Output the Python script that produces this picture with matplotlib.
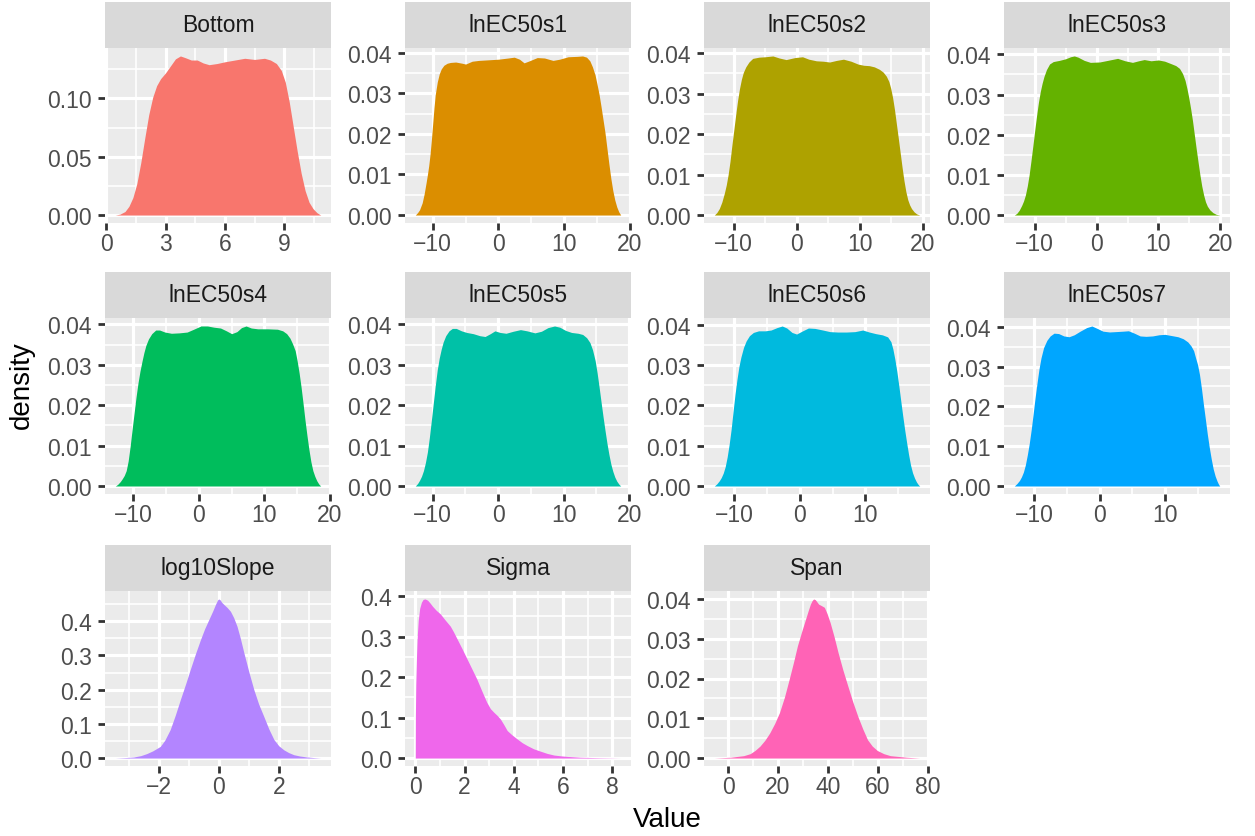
import matplotlib
matplotlib.use("Agg")
import matplotlib.pyplot as plt
import numpy as np

plt.rcParams['font.family'] = ['Liberation Sans', 'DejaVu Sans']

panel_names = ["Bottom", "lnEC50s1", "lnEC50s2", "lnEC50s3", "lnEC50s4", "lnEC50s5",
               "lnEC50s6", "lnEC50s7", "log10Slope", "Sigma", "Span"]

fill_colors = ["#F8766D", "#DB8E00", "#AEA200", "#64B200", "#00BD5C", "#00C1A7",
               "#00BADE", "#00A6FF", "#B385FF", "#EF67EB", "#FF63B6"]

bottom_pts = [(0.46, 0), (0.7, 0.0008), (0.95, 0.003), (1.15, 0.0075), (1.35, 0.015), (1.55, 0.027),
              (1.75, 0.045), (1.95, 0.066), (2.15, 0.086), (2.35, 0.101), (2.55, 0.111), (2.75, 0.117),
              (3.0, 0.122), (3.25, 0.128), (3.5, 0.134), (3.75, 0.1365), (4.0, 0.135), (4.3, 0.133),
              (4.6, 0.133), (4.9, 0.1305), (5.2, 0.129), (5.6, 0.130), (6.0, 0.1315), (6.5, 0.133),
              (7.0, 0.1345), (7.5, 0.1335), (8.0, 0.1345), (8.3, 0.133), (8.6, 0.130), (8.85, 0.124),
              (9.05, 0.114), (9.25, 0.097), (9.45, 0.076), (9.65, 0.055), (9.85, 0.036), (10.05, 0.021),
              (10.25, 0.011), (10.45, 0.0055), (10.65, 0.002), (10.84, 0)]

s1_pts = [(-12.65, 0), (-12.3, 0.0006), (-12.0, 0.0013), (-11.6, 0.003), (-11.3, 0.0052), (-11.0, 0.008),
          (-10.8, 0.010), (-10.6, 0.0122), (-10.4, 0.015), (-10.2, 0.0185), (-10.0, 0.0225), (-9.8, 0.0265),
          (-9.6, 0.0298), (-9.3, 0.0328), (-9.0, 0.0348), (-8.7, 0.036), (-8.3, 0.0369), (-7.8, 0.0374),
          (-7.3, 0.0376), (-6.5, 0.0377), (-5.5, 0.0374), (-5.0, 0.0372), (-4.0, 0.0379), (-3.0, 0.0381),
          (-2.0, 0.0382), (0.0, 0.0384), (1.5, 0.0387), (2.4, 0.0389), (3.2, 0.0384), (3.9, 0.0375),
          (4.7, 0.038), (5.9, 0.0388), (7.0, 0.0387), (8.3, 0.0381), (9.3, 0.0384), (10.6, 0.039),
          (12.0, 0.0391), (12.8, 0.0392), (13.4, 0.0389), (13.9, 0.038), (14.3, 0.0365), (14.7, 0.0345),
          (15.0, 0.0322), (15.3, 0.0298), (15.6, 0.0268), (15.9, 0.0236), (16.2, 0.0204), (16.5, 0.0165),
          (16.8, 0.0126), (17.1, 0.009), (17.4, 0.006), (17.7, 0.0037), (18.0, 0.002), (18.3, 0.0008),
          (18.6, 0)]

s2_pts = [(-13.1, 0), (-12.7, 0.0006), (-12.3, 0.0016), (-11.9, 0.0032), (-11.5, 0.0054), (-11.2, 0.0074),
          (-10.9, 0.010), (-10.6, 0.0133), (-10.3, 0.0173), (-10.0, 0.021), (-9.7, 0.0248), (-9.4, 0.0283),
          (-9.1, 0.0312), (-8.8, 0.0335), (-8.5, 0.0352), (-8.1, 0.0366), (-7.6, 0.0378), (-7.0, 0.0387),
          (-6.0, 0.039), (-5.0, 0.0391), (-3.8, 0.0393), (-2.8, 0.0388), (-1.7, 0.0384), (-0.3, 0.0389),
          (0.9, 0.0391), (1.9, 0.0385), (3.1, 0.0381), (4.2, 0.038), (5.2, 0.0378), (6.3, 0.0382),
          (7.4, 0.0385), (8.6, 0.038), (9.7, 0.0373), (10.6, 0.037), (11.5, 0.0369), (12.3, 0.0366),
          (13.1, 0.036), (13.7, 0.0353), (14.2, 0.0343), (14.6, 0.033), (14.9, 0.0313), (15.2, 0.029),
          (15.5, 0.026), (15.8, 0.0225), (16.1, 0.019), (16.4, 0.0154), (16.7, 0.0118), (17.0, 0.0085),
          (17.3, 0.0058), (17.6, 0.0038), (17.9, 0.0025), (18.2, 0.0016), (18.6, 0.0008), (19.0, 0.0003),
          (19.5, 0)]

s3_pts = [(-13.3, 0), (-12.9, 0.0004), (-12.5, 0.0012), (-12.1, 0.0024), (-11.8, 0.0035), (-11.5, 0.005),
          (-11.2, 0.0072), (-10.9, 0.010), (-10.6, 0.0135), (-10.3, 0.0172), (-10.0, 0.021), (-9.7, 0.0247),
          (-9.4, 0.028), (-9.1, 0.0307), (-8.8, 0.0328), (-8.5, 0.0345), (-8.1, 0.0362), (-7.6, 0.0376),
          (-7.0, 0.0382), (-6.0, 0.0385), (-5.0, 0.0389), (-4.2, 0.0394), (-3.6, 0.0396), (-3.0, 0.0393),
          (-2.0, 0.0385), (-1.0, 0.038), (0.5, 0.0381), (1.8, 0.0385), (3.4, 0.039), (4.6, 0.0384),
          (5.8, 0.038), (6.8, 0.0384), (7.7, 0.0387), (8.8, 0.0384), (10.0, 0.0386), (11.0, 0.0383),
          (12.0, 0.0377), (12.8, 0.0372), (13.4, 0.0365), (13.9, 0.0352), (14.3, 0.0335), (14.6, 0.0315),
          (14.9, 0.0292), (15.2, 0.0265), (15.5, 0.0235), (15.8, 0.020), (16.1, 0.0165), (16.4, 0.0132),
          (16.7, 0.010), (17.0, 0.0072), (17.3, 0.005), (17.6, 0.0033), (17.9, 0.0022), (18.3, 0.0013),
          (18.8, 0.0006), (19.3, 0.0002), (19.9, 0)]

s4_pts = [(-12.77, 0), (-12.4, 0.0004), (-12.0, 0.0011), (-11.7, 0.0018), (-11.4, 0.0026), (-11.1, 0.0038),
          (-10.8, 0.0062), (-10.5, 0.0098), (-10.2, 0.014), (-9.9, 0.018), (-9.6, 0.022), (-9.3, 0.0255),
          (-9.0, 0.0284), (-8.7, 0.0308), (-8.4, 0.033), (-8.1, 0.0348), (-7.7, 0.0364), (-7.2, 0.0377),
          (-6.6, 0.0386), (-6.0, 0.0386), (-5.2, 0.0381), (-4.2, 0.0378), (-3.0, 0.0379), (-1.8, 0.0381),
          (-0.8, 0.0388), (0.3, 0.0396), (1.3, 0.0396), (2.3, 0.0393), (3.3, 0.0391), (4.2, 0.0384),
          (5.0, 0.0377), (5.8, 0.0382), (6.5, 0.0392), (7.2, 0.0396), (8.0, 0.0391), (9.0, 0.0389),
          (10.5, 0.0389), (12.0, 0.0388), (12.8, 0.0384), (13.4, 0.0377), (13.9, 0.0366), (14.3, 0.0352),
          (14.7, 0.0335), (15.0, 0.031), (15.3, 0.028), (15.6, 0.0245), (15.9, 0.0205), (16.2, 0.0163),
          (16.5, 0.0125), (16.8, 0.009), (17.1, 0.006), (17.4, 0.0038), (17.7, 0.0024), (18.0, 0.0013),
          (18.3, 0.0005), (18.6, 0)]

s5_pts = [(-12.65, 0), (-12.3, 0.0006), (-12.0, 0.0014), (-11.7, 0.0024), (-11.4, 0.0038), (-11.1, 0.0058),
          (-10.8, 0.0084), (-10.5, 0.012), (-10.2, 0.0162), (-9.9, 0.0205), (-9.6, 0.0248), (-9.3, 0.0287),
          (-9.0, 0.0316), (-8.7, 0.0338), (-8.4, 0.0356), (-8.0, 0.0372), (-7.5, 0.0384), (-7.0, 0.039),
          (-6.4, 0.039), (-5.6, 0.0384), (-4.8, 0.038), (-3.8, 0.0377), (-2.8, 0.0372), (-2.0, 0.037),
          (-1.2, 0.0377), (-0.5, 0.0384), (0.3, 0.038), (1.2, 0.0378), (2.3, 0.0383), (3.4, 0.0387),
          (4.4, 0.0384), (5.6, 0.0379), (6.6, 0.0383), (7.6, 0.0392), (8.6, 0.0396), (9.4, 0.0393),
          (10.3, 0.0385), (11.2, 0.038), (12.2, 0.0378), (12.9, 0.0375), (13.5, 0.0367), (14.0, 0.0355),
          (14.4, 0.0337), (14.8, 0.031), (15.1, 0.028), (15.4, 0.0245), (15.7, 0.0208), (16.0, 0.0172),
          (16.3, 0.0138), (16.6, 0.0106), (16.9, 0.0078), (17.2, 0.0054), (17.5, 0.0036), (17.8, 0.0022),
          (18.1, 0.0012), (18.4, 0.0005), (18.7, 0)]

s6_pts = [(-13.07, 0), (-12.7, 0.0005), (-12.3, 0.0013), (-12.0, 0.0021), (-11.7, 0.0032), (-11.4, 0.0048),
          (-11.1, 0.0072), (-10.8, 0.0103), (-10.5, 0.014), (-10.2, 0.0185), (-9.9, 0.0228), (-9.6, 0.0265),
          (-9.3, 0.0297), (-9.0, 0.032), (-8.6, 0.0344), (-8.2, 0.036), (-7.7, 0.0373), (-7.1, 0.0381),
          (-6.3, 0.0385), (-5.3, 0.0385), (-4.4, 0.0387), (-3.5, 0.0393), (-2.7, 0.0397), (-2.0, 0.0392),
          (-1.2, 0.0381), (-0.5, 0.0377), (0.3, 0.0384), (1.3, 0.0392), (2.3, 0.0391), (3.5, 0.0387),
          (4.6, 0.0383), (5.8, 0.0382), (7.1, 0.0382), (8.4, 0.0383), (9.6, 0.0387), (10.6, 0.0382),
          (11.6, 0.0378), (12.6, 0.0375), (13.4, 0.037), (13.9, 0.0358), (14.2, 0.034), (14.5, 0.0315),
          (14.8, 0.0285), (15.1, 0.025), (15.4, 0.0212), (15.7, 0.0175), (16.0, 0.014), (16.3, 0.0108),
          (16.6, 0.0078), (16.9, 0.0052), (17.2, 0.0033), (17.5, 0.002), (17.8, 0.001), (18.05, 0.0004),
          (18.3, 0)]

s7_pts = [(-13.1, 0), (-12.7, 0.0006), (-12.3, 0.0014), (-12.0, 0.0023), (-11.7, 0.0035), (-11.4, 0.0053),
          (-11.1, 0.0078), (-10.8, 0.0107), (-10.5, 0.0142), (-10.2, 0.0182), (-9.9, 0.0223), (-9.6, 0.026),
          (-9.3, 0.0295), (-9.0, 0.0322), (-8.6, 0.0348), (-8.1, 0.0366), (-7.6, 0.0377), (-7.0, 0.0384),
          (-6.3, 0.0383), (-5.5, 0.0377), (-4.7, 0.0375), (-3.9, 0.038), (-3.0, 0.0389), (-2.0, 0.0398),
          (-1.2, 0.0402), (-0.4, 0.0396), (0.5, 0.0389), (1.5, 0.0387), (2.6, 0.0388), (3.6, 0.0389),
          (4.4, 0.039), (5.3, 0.0384), (6.2, 0.0377), (7.1, 0.0376), (8.1, 0.0377), (9.1, 0.038),
          (10.0, 0.0381), (11.0, 0.0378), (12.0, 0.0375), (12.8, 0.037), (13.5, 0.0362), (14.0, 0.0352),
          (14.4, 0.034), (14.7, 0.0322), (15.0, 0.0305), (15.3, 0.028), (15.6, 0.0245), (15.9, 0.0205),
          (16.2, 0.0168), (16.5, 0.013), (16.8, 0.0097), (17.1, 0.0068), (17.4, 0.0043), (17.7, 0.0025),
          (18.0, 0.0012), (18.2, 0.0005), (18.4, 0)]

slope_pts = [(-3.45, 0), (-3.1, 0.0015), (-2.84, 0.003), (-2.6, 0.007), (-2.4, 0.013), (-2.2, 0.021),
             (-1.95, 0.034), (-1.8, 0.052), (-1.62, 0.083), (-1.45, 0.125), (-1.28, 0.171), (-1.1, 0.218),
             (-0.95, 0.259), (-0.78, 0.304), (-0.61, 0.346), (-0.47, 0.378), (-0.33, 0.405), (-0.2, 0.43),
             (-0.11, 0.449), (-0.04, 0.462), (0.0, 0.465), (0.05, 0.462), (0.1, 0.455), (0.17, 0.449),
             (0.28, 0.44), (0.39, 0.429), (0.5, 0.41), (0.61, 0.385), (0.72, 0.35), (0.84, 0.307),
             (1.0, 0.253), (1.17, 0.2), (1.33, 0.158), (1.5, 0.122), (1.67, 0.085), (1.84, 0.054),
             (2.0, 0.036), (2.17, 0.024), (2.33, 0.016), (2.5, 0.0098), (2.7, 0.006), (2.95, 0.003),
             (3.2, 0.0012), (3.4, 0)]

sigma_pts = [(0.0, 0), (0.005, 0.10), (0.02, 0.18), (0.05, 0.25), (0.08, 0.30), (0.12, 0.34), (0.18, 0.37),
             (0.25, 0.385), (0.32, 0.392), (0.4, 0.393), (0.5, 0.39), (0.6, 0.383), (0.7, 0.375),
             (0.85, 0.365), (1.02, 0.356), (1.2, 0.342), (1.42, 0.326), (1.55, 0.312), (1.7, 0.294),
             (1.9, 0.27), (2.1, 0.245), (2.3, 0.22), (2.5, 0.195), (2.7, 0.166), (2.9, 0.138), (3.05, 0.122),
             (3.19, 0.113), (3.33, 0.105), (3.46, 0.096), (3.6, 0.082), (3.73, 0.068), (3.93, 0.057),
             (4.14, 0.047), (4.34, 0.038), (4.54, 0.031), (4.8, 0.023), (5.08, 0.017), (5.35, 0.0115),
             (5.63, 0.0074), (5.9, 0.0055), (6.17, 0.004), (6.7, 0.002), (7.5, 0.0008), (8.34, 0)]

span_pts = [(-5.5, 0), (1.0, 0.0002), (6.3, 0.0006), (8.9, 0.0011), (10.8, 0.0019), (12.8, 0.003),
            (14.8, 0.0045), (16.7, 0.0063), (18.7, 0.0087), (20.6, 0.0114), (22.6, 0.0153), (24.5, 0.0198),
            (26.2, 0.024), (27.8, 0.0282), (29.5, 0.0318), (31.1, 0.035), (32.1, 0.037), (33.0, 0.0387),
            (33.7, 0.0396), (34.3, 0.040), (35.0, 0.0398), (35.7, 0.0392), (36.3, 0.0387), (37.5, 0.0383),
            (38.6, 0.0379), (39.7, 0.0363), (40.9, 0.0341), (42.5, 0.0305), (44.1, 0.0265), (46.0, 0.0222),
            (48.0, 0.0181), (50.0, 0.0141), (52.0, 0.0105), (54.0, 0.0073), (55.9, 0.0046), (57.8, 0.003),
            (59.8, 0.0019), (62.4, 0.0011), (65.0, 0.0006), (71.5, 0.0002), (76.8, 0)]

curves = [bottom_pts, s1_pts, s2_pts, s3_pts, s4_pts, s5_pts, s6_pts, s7_pts,
          slope_pts, sigma_pts, span_pts]

ln_xticks = [-10, 0, 10, 20]
x_ticks = [[0, 3, 6, 9]] + [ln_xticks] * 7 + [[-2, 0, 2], [0, 2, 4, 6, 8], [0, 20, 40, 60, 80]]
x_tick_labels = [["0", "3", "6", "9"]] + [["\u221210", "0", "10", "20"]] * 7 + \
                [["\u22122", "0", "2"], ["0", "2", "4", "6", "8"], ["0", "20", "40", "60", "80"]]

ln_yticks = [0.0, 0.01, 0.02, 0.03, 0.04]
ln_ylabels = ["0.00", "0.01", "0.02", "0.03", "0.04"]
y_ticks = [[0.0, 0.05, 0.10]] + [ln_yticks] * 7 + [[0.0, 0.1, 0.2, 0.3, 0.4]] * 2 + [ln_yticks]
y_tick_labels = [["0.00", "0.05", "0.10"]] + [ln_ylabels] * 7 + \
                [["0.0", "0.1", "0.2", "0.3", "0.4"]] * 2 + [ln_ylabels]

# ---------------- layout ----------------
W, H = 1255, 837
fig = plt.figure(figsize=(W / 100, H / 100), dpi=100)
fig.patch.set_facecolor("white")

col_lr = [(105, 331), (405, 631), (704, 930), (1004, 1230)]
row_tb = [(3, 49, 224), (273, 319, 495), (546, 592, 767)]


def rect(l, t, r, b):
    return [l / W, 1 - b / H, (r - l) / W, (b - t) / H]


TICK_FS = 16.5
for i, name in enumerate(panel_names):
    r, c = divmod(i, 4)
    l, rr = col_lr[c]
    st, pt, pb = row_tb[r]
    ax = fig.add_axes(rect(l, pt, rr, pb))
    sax = fig.add_axes(rect(l, st, rr, pt))
    sax.set_facecolor("#D9D9D9")
    sax.set_xticks([]); sax.set_yticks([])
    for s in sax.spines.values():
        s.set_visible(False)
    sax.text(0.5, 0.5, name, ha="center", va="center", fontsize=TICK_FS,
             color="#1A1A1A", transform=sax.transAxes)

    pts = np.array(curves[i], dtype=float)
    x = pts[:, 0]; y = pts[:, 1]
    ax.set_facecolor("#EBEBEB")
    ax.fill_between(x, 0, y, color=fill_colors[i], linewidth=0, zorder=3)

    xr = x.max() - x.min()
    xlim = (x.min() - 0.05 * xr, x.max() + 0.05 * xr)
    ymax = y.max()
    ylim = (-0.05 * ymax, 1.05 * ymax)

    xt = x_ticks[i]; yt = y_ticks[i]
    xmin_ = [(a + b) / 2 for a, b in zip(xt[:-1], xt[1:])]
    dx = xt[1] - xt[0]
    xmin_ = [xt[0] - dx / 2] + xmin_ + [xt[-1] + dx / 2]
    ymin_ = [(a + b) / 2 for a, b in zip(yt[:-1], yt[1:])]
    dy = yt[1] - yt[0]
    ymin_ = ymin_ + [yt[-1] + dy / 2]

    for v in xmin_:
        if xlim[0] < v < xlim[1]:
            ax.axvline(v, color="white", lw=1.2, zorder=1)
    for v in ymin_:
        if ylim[0] < v < ylim[1]:
            ax.axhline(v, color="white", lw=1.2, zorder=1)
    for v in xt:
        if xlim[0] <= v <= xlim[1]:
            ax.axvline(v, color="white", lw=2.3, zorder=2)
    for v in yt:
        if ylim[0] <= v <= ylim[1]:
            ax.axhline(v, color="white", lw=2.3, zorder=2)

    ax.set_xticks(xt)
    ax.set_xticklabels(x_tick_labels[i])
    ax.set_yticks(yt)
    ax.set_yticklabels(y_tick_labels[i])
    ax.set_xlim(*xlim)
    ax.set_ylim(*ylim)
    for s in ax.spines.values():
        s.set_visible(False)
    ax.tick_params(axis="both", direction="out", length=5.3, width=2.0,
                   color="#333333", labelcolor="#4D4D4D", labelsize=TICK_FS)
    ax.tick_params(axis="x", pad=1.5)
    ax.tick_params(axis="y", pad=4)

fig.text(22 / W, 1 - 385 / H, "density", rotation=90, ha="center", va="center",
         fontsize=20, color="black")
fig.text(667 / W, 1 - 820 / H, "Value", ha="center", va="center",
         fontsize=20, color="black")

fig.savefig("out.png", dpi=100, facecolor="white")
